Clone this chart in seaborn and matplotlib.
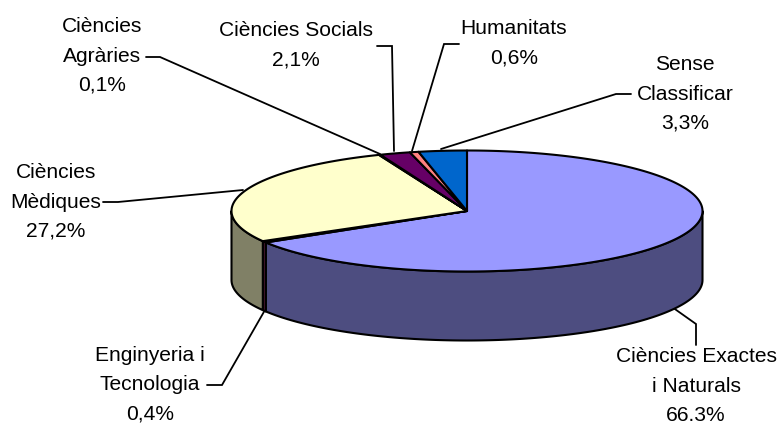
import numpy as np
import matplotlib
matplotlib.use("Agg")
import matplotlib.pyplot as plt
import seaborn as sns

categories = ["Ciències Exactes\ni Naturals", "Enginyeria i\nTecnologia", "Ciències\nMèdiques",
              "Ciències\nAgràries", "Ciències Socials", "Humanitats", "Sense\nClassificar"]
shares = [66.3, 0.4, 27.2, 0.1, 2.1, 0.6, 3.3]
share_text = ["66.3%", "0,4%", "27,2%", "0,1%", "2,1%", "0,6%", "3,3%"]
top_hex = ["#9999FF", "#993366", "#FFFFCC", "#CCFFFF", "#660066", "#FF8080", "#0066CC"]
side_hex = ["#4D4D80", "#4D1A33", "#808066", "#668080", "#330033", "#804040", "#003366"]

label_xy = [(696, 386), (150, 385), (56, 202), (102, 56), (296, 45), (514, 43), (685, 94)]
leaders = [
    [(696, 345), (696, 324), (672, 307)],
    [(207, 385), (222, 385), (265, 310)],
    [(103, 202), (118, 202), (243, 190)],
    [(146, 57), (160, 57), (380, 154)],
    [(377, 46), (392, 46), (394, 151)],
    [(459, 44), (444, 44), (412, 151)],
    [(631, 94), (616, 94), (441, 149)],
]

sns.set_theme(style="white")
plt.rcParams["font.family"] = ["Liberation Sans", "DejaVu Sans"]
top_colors = sns.color_palette(top_hex)
side_colors = sns.color_palette(side_hex)

W, H = 781, 425
fig, ax = plt.subplots(figsize=(W / 100, H / 100), dpi=100)
ax.set_position([0, 0, 1, 1])
ax.set_xlim(0, W)
ax.set_ylim(H, 0)
ax.axis("off")

cx, cy, rx, ry, depth = 467, 211, 235.5, 60.5, 69
lw = 1.5


def ell(theta):
    """Point on the top rim at a clockwise angle from 12 o'clock."""
    return cx + rx * np.sin(theta), cy - ry * np.cos(theta)


fractions = np.array(shares) / np.sum(shares)
edges = np.concatenate([[0], np.cumsum(fractions)]) * 2 * np.pi

# rim of the disc: only the part facing the viewer
for a, b, col in zip(edges[:-1], edges[1:], side_colors):
    lo, hi = max(a, np.pi / 2), min(b, 3 * np.pi / 2)
    if hi <= lo:
        continue
    t = np.linspace(lo, hi, 200)
    x, y = ell(t)
    ax.fill(np.r_[x, x[::-1]], np.r_[y, (y + depth)[::-1]], facecolor=col,
            edgecolor="black", lw=lw, joinstyle="round", zorder=2)

# top faces
for a, b, col in zip(edges[:-1], edges[1:], top_colors):
    t = np.linspace(a, b, max(int((b - a) * 120), 3))
    x, y = ell(t)
    ax.fill(np.r_[cx, x], np.r_[cy, y], facecolor=col, edgecolor="black",
            lw=lw, joinstyle="round", zorder=3)

for pts in leaders:
    px, py = zip(*pts)
    ax.plot(px, py, color="black", lw=1.3, zorder=1, solid_joinstyle="miter")

for name, pct, (lx, ly) in zip(categories, share_text, label_xy):
    ax.text(lx, ly, f"{name}\n{pct}", ha="center", va="center", ma="center",
            fontsize=15.1, linespacing=1.68, color="black", zorder=5)

fig.savefig("out.png", dpi=100, facecolor="white")
